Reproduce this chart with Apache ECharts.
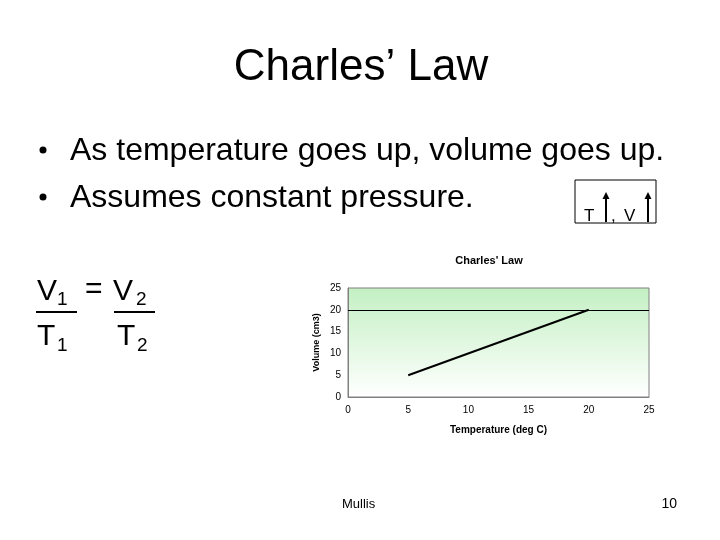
<!DOCTYPE html>
<html>
<head>
<meta charset="utf-8">
<style>
  html, body { margin: 0; padding: 0; background: #fff; }
  #slide { width: 720px; height: 540px; }
</style>
<script src="https://cdn.jsdelivr.net/npm/echarts@6/dist/echarts.min.js"></script>
</head>
<body>
<div id="slide"></div>
<script>
// chart data
const temperatures = [5, 20];
const volumes = [5, 20];
const xTicks = [0, 5, 10, 15, 20, 25];
const yTicks = [0, 5, 10, 15, 20, 25];
const refLine = 20;

const FONT = "'Liberation Sans', Arial, sans-serif";

const chart = echarts.init(document.getElementById('slide'));

// slide text helper
function txt(x, y, s, size, align) {
  return {
    type: 'text', x: x, y: y,
    style: {
      text: s, font: size + 'px ' + FONT, fill: '#000',
      textAlign: align || 'left', textVerticalAlign: 'middle'
    }
  };
}

// small up arrow for the T / V box
function arrow(x, yTop, yBot) {
  return [
    { type: 'line', shape: { x1: x, y1: yTop + 5, x2: x, y2: yBot }, style: { stroke: '#000', lineWidth: 2 } },
    { type: 'polygon', shape: { points: [[x, yTop], [x - 3.5, yTop + 7], [x + 3.5, yTop + 7]] }, style: { fill: '#000' } }
  ];
}

const graphics = [
  txt(361, 68, 'Charles’ Law', 44, 'center'),
  { type: 'circle', shape: { cx: 43, cy: 150, r: 3.5 }, style: { fill: '#000' } },
  txt(70, 151, 'As temperature goes up, volume goes up.', 32),
  { type: 'circle', shape: { cx: 43, cy: 197, r: 3.5 }, style: { fill: '#000' } },
  txt(70, 198, 'Assumes constant pressure.', 32),

  // T up, V up box
  { type: 'rect', shape: { x: 575, y: 180, width: 81, height: 43 }, style: { fill: 'none', stroke: '#000', lineWidth: 1 } },
  txt(584, 216, 'T', 17),
  txt(611, 216, ',', 17),
  txt(624, 216, 'V', 17),
  ...arrow(606, 192, 222),
  ...arrow(648, 192, 222),

  // V1/T1 = V2/T2
  txt(37, 292, 'V', 30),
  txt(57, 300, '1', 19),
  txt(85, 290, '=', 30),
  txt(113, 292, 'V', 30),
  txt(136, 300, '2', 19),
  { type: 'line', shape: { x1: 36, y1: 312, x2: 77, y2: 312 }, style: { stroke: '#000', lineWidth: 2 } },
  { type: 'line', shape: { x1: 114, y1: 312, x2: 155, y2: 312 }, style: { stroke: '#000', lineWidth: 2 } },
  txt(37, 337, 'T', 30),
  txt(57, 346, '1', 19),
  txt(117, 337, 'T', 30),
  txt(137, 346, '2', 19),

  // footer
  txt(342, 504, 'Mullis', 13),
  txt(677, 504, '10', 14, 'right')
];

const option = {
  animation: false,
  backgroundColor: '#fff',
  title: {
    text: "Charles' Law",
    left: 484, top: 250,
    textAlign: 'center',
    textStyle: { fontFamily: FONT, fontSize: 11, fontWeight: 'bold', color: '#000' }
  },
  grid: {
    left: 348, top: 288, width: 301, height: 109,
    show: true,
    borderColor: '#808080',
    borderWidth: 1,
    backgroundColor: {
      type: 'linear', x: 0, y: 0, x2: 0, y2: 1,
      colorStops: [
        { offset: 0, color: '#c3f0c3' },
        { offset: 1, color: '#ffffff' }
      ]
    }
  },
  xAxis: {
    type: 'value',
    min: xTicks[0], max: xTicks[xTicks.length - 1], interval: 5,
    name: 'Temperature (deg C)',
    nameLocation: 'middle', nameGap: 28,
    nameTextStyle: { fontFamily: FONT, fontSize: 10, fontWeight: 'bold', color: '#000' },
    axisLine: { show: true, lineStyle: { color: '#808080' } },
    axisTick: { show: false },
    splitLine: { show: false },
    axisLabel: { fontFamily: FONT, fontSize: 10, color: '#000', margin: 8 }
  },
  yAxis: {
    type: 'value',
    min: yTicks[0], max: yTicks[yTicks.length - 1], interval: 5,
    name: 'Volume (cm3)',
    nameLocation: 'middle', nameGap: 27,
    nameTextStyle: { fontFamily: FONT, fontSize: 9, fontWeight: 'bold', color: '#000' },
    axisLine: { show: true, lineStyle: { color: '#808080' } },
    axisTick: { show: false },
    splitLine: { show: false },
    axisLabel: { fontFamily: FONT, fontSize: 10, color: '#000', margin: 7 }
  },
  series: [{
    type: 'line',
    data: temperatures.map((t, i) => [t, volumes[i]]),
    symbol: 'none',
    lineStyle: { color: '#000', width: 2 },
    markLine: {
      silent: true,
      symbol: 'none',
      label: { show: false },
      lineStyle: { color: '#000', width: 1, type: 'solid' },
      data: [{ yAxis: refLine }]
    }
  }],
  graphic: graphics
};

chart.setOption(option);
</script>
</body>
</html>
